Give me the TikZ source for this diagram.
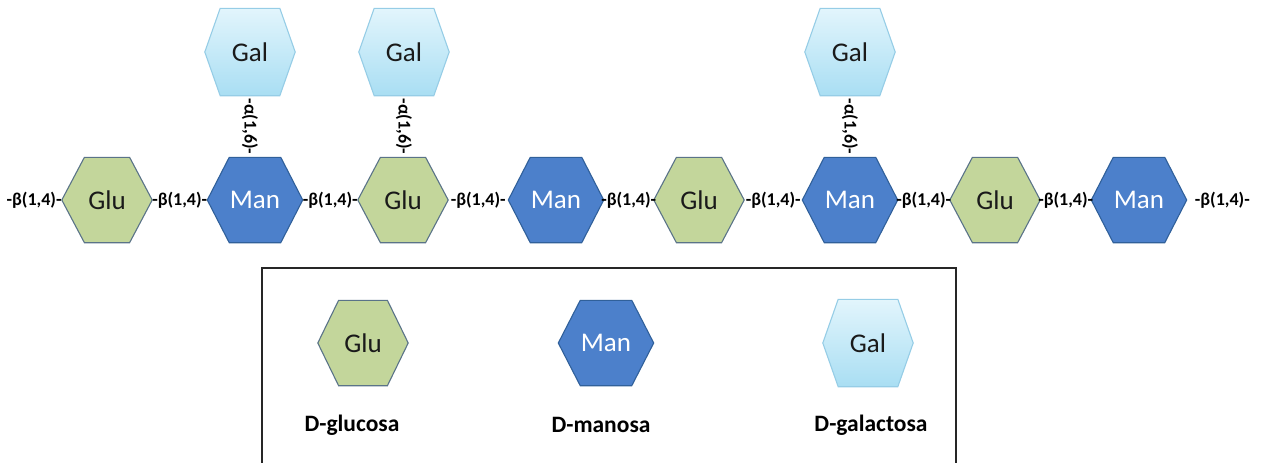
\documentclass[tikz,border=0pt]{standalone}
\usepackage{fontspec}
\setmainfont{Carlito}
\usetikzlibrary{calc,backgrounds}

\definecolor{glufill}{HTML}{C3D69B}
\definecolor{gluline}{HTML}{5A7388}
\definecolor{manfill}{HTML}{4C80CB}
\definecolor{manline}{HTML}{30609A}
\definecolor{galtop}{HTML}{E2F5FC}
\definecolor{galbot}{HTML}{A9DEF3}
\definecolor{galline}{HTML}{96CDE6}
\definecolor{sugartext}{HTML}{1A1A1A}

\tikzset{
  sugar/.style={minimum width=90pt, minimum height=85pt, inner sep=0pt,
    font=\fontsize{27}{27}\selectfont},
  glu/.style={sugar, text=sugartext},
  man/.style={sugar, minimum width=95pt, text=white},
  gal/.style={sugar, minimum height=87pt, text=sugartext},
  glupaint/.style={fill=glufill, draw=gluline, line width=1.1pt},
  manpaint/.style={fill=manfill, draw=manline, line width=1.1pt},
  galpaint/.style={top color=galtop, bottom color=galbot, draw=galline, line width=1.1pt},
  link/.style={font=\bfseries\fontsize{18}{18}\selectfont, inner sep=0pt},
  caption/.style={font=\bfseries\fontsize{23.5}{23.5}\selectfont, inner sep=0pt},
  frame/.style={draw=black!85, line width=1.4pt},
}

% hexagon behind a node: name, slant fraction of the top edge, paint style
\newcommand\hexbehind[3]{%
  \begin{scope}[on background layer]
    \path[#3] (#1.west)
      -- ($(#1.north west)!#2!(#1.north east)$)
      -- ($(#1.north east)!#2!(#1.north west)$)
      -- (#1.east)
      -- ($(#1.south east)!#2!(#1.south west)$)
      -- ($(#1.south west)!#2!(#1.south east)$)
      -- cycle;
  \end{scope}}

\begin{document}
\begin{tikzpicture}[x=1pt,y=-1pt]
  \useasboundingbox (0,0) rectangle (1261,463);

  % backbone
  \node[glu] (g1) at (107,200) {Glu};  \hexbehind{g1}{0.25}{glupaint}
  \node[man] (m1) at (255,200) {Man};  \hexbehind{m1}{0.23}{manpaint}
  \node[glu] (g2) at (403,200) {Glu};  \hexbehind{g2}{0.25}{glupaint}
  \node[man] (m2) at (556,200) {Man};  \hexbehind{m2}{0.23}{manpaint}
  \node[glu] (g3) at (699,200) {Glu};  \hexbehind{g3}{0.25}{glupaint}
  \node[man] (m3) at (850,200) {Man};  \hexbehind{m3}{0.23}{manpaint}
  \node[glu] (g4) at (995,200) {Glu};  \hexbehind{g4}{0.25}{glupaint}
  \node[man] (m4) at (1139,200) {Man}; \hexbehind{m4}{0.23}{manpaint}

  % galactose branches
  \node[gal] (a1) at (250,52) {Gal}; \hexbehind{a1}{0.17}{galpaint}
  \node[gal] (a2) at (404,52) {Gal}; \hexbehind{a2}{0.17}{galpaint}
  \node[gal] (a3) at (850,52) {Gal}; \hexbehind{a3}{0.17}{galpaint}

  % glycosidic bonds
  \node[link, anchor=east] (b0) at (g1.west) {-β(1,4)-};
  \path (g1.east) -- (m1.west) node[link, midway] (b1) {-β(1,4)-};
  \path (m1.east) -- (g2.west) node[link, midway] (b2) {-β(1,4)-};
  \path (g2.east) -- (m2.west) node[link, midway] (b3) {-β(1,4)-};
  \path (m2.east) -- (g3.west) node[link, midway] (b4) {-β(1,4)-};
  \path (g3.east) -- (m3.west) node[link, midway] (b5) {-β(1,4)-};
  \path (m3.east) -- (g4.west) node[link, midway] (b6) {-β(1,4)-};
  \path (g4.east) -- (m4.west) node[link, midway] (b7) {-β(1,4)-};
  \node[link, anchor=west] (b8) at ($(m4.east)+(8,0)$) {-β(1,4)-};

  \path (a1.south) -- (a1.south |- m1.north) node[link, midway, rotate=-90] (c1) {-α(1,6)-};
  \path (a2.south) -- (a2.south |- g2.north) node[link, midway, rotate=-90] (c2) {-α(1,6)-};
  \path (a3.south) -- (a3.south |- m3.north) node[link, midway, rotate=-90] (c3) {-α(1,6)-};

  % legend
  \draw[frame] (262,463) |- (956,268) -- (956,463);
  \node[glu] (lg) at (363,343) {Glu}; \hexbehind{lg}{0.23}{glupaint}
  \node[man] (lm) at (606,343) {Man}; \hexbehind{lm}{0.23}{manpaint}
  \node[gal] (la) at (868,343) {Gal}; \hexbehind{la}{0.17}{galpaint}
  \node[caption] (tg) at (352,425) {D-glucosa};
  \node[caption] (tm) at (601,425) {D-manosa};
  \node[caption] (ta) at (871,425) {D-galactosa};
\end{tikzpicture}
\end{document}
